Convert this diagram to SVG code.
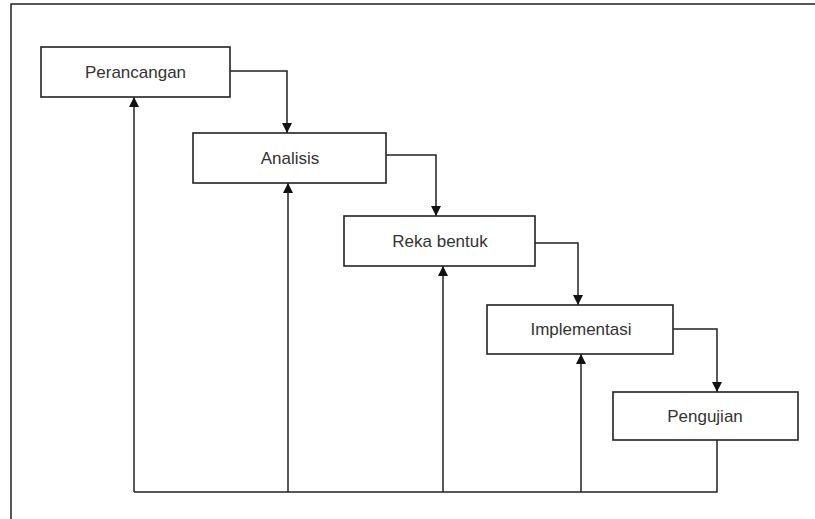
<svg xmlns="http://www.w3.org/2000/svg" width="815" height="519" viewBox="0 0 815 519">
<style>
.box{fill:#fff;stroke:#222;stroke-width:1.6}
.lbl{font-family:"Liberation Sans",Arial,sans-serif;font-size:17px;fill:#333;text-anchor:middle}
.ln{fill:none;stroke:#222;stroke-width:1.5}
</style>
<defs>
<marker id="ah" markerWidth="10" markerHeight="12" refX="10" refY="5" orient="auto" markerUnits="userSpaceOnUse" viewBox="0 0 10 10">
<path d="M0,0 L10,5 L0,10 Z" fill="#111"/>
</marker>
</defs>
<rect width="815" height="519" fill="#fff"/>
<g id="frame">
<path class="ln" d="M11,519 V4 H815" stroke="#444"/>
</g>
<g id="connectors">
<path class="ln" d="M230,71 H287 V133" marker-end="url(#ah)"/>
<path class="ln" d="M386,155 H436 V216" marker-end="url(#ah)"/>
<path class="ln" d="M535,243 H578 V305" marker-end="url(#ah)"/>
<path class="ln" d="M673,329 H717 V392" marker-end="url(#ah)"/>
<path class="ln" d="M717,440 V492 H134"/>
<path class="ln" d="M134,492 V97" marker-end="url(#ah)"/>
<path class="ln" d="M288,492 V183" marker-end="url(#ah)"/>
<path class="ln" d="M443,492 V266" marker-end="url(#ah)"/>
<path class="ln" d="M581,492 V354" marker-end="url(#ah)"/>
</g>
<g id="perancangan">
<rect class="box" x="41" y="47" width="189" height="50"/>
<text class="lbl" x="135.5" y="78">Perancangan</text>
</g>
<g id="analisis">
<rect class="box" x="193" y="133" width="193" height="50"/>
<text class="lbl" x="290" y="164">Analisis</text>
</g>
<g id="rekabentuk">
<rect class="box" x="344" y="216" width="191" height="50"/>
<text class="lbl" x="440" y="247">Reka bentuk</text>
</g>
<g id="implementasi">
<rect class="box" x="487" y="305" width="186" height="49"/>
<text class="lbl" x="581" y="335">Implementasi</text>
</g>
<g id="pengujian">
<rect class="box" x="613" y="392" width="185" height="48"/>
<text class="lbl" x="705" y="422">Pengujian</text>
</g>
</svg>
